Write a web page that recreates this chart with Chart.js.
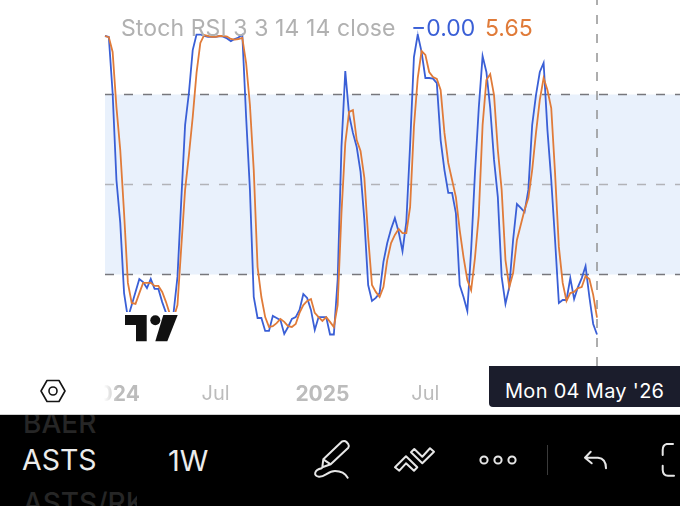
<!DOCTYPE html>
<html>
<head>
<meta charset="utf-8">
<script src="https://cdn.jsdelivr.net/npm/chart.js@4"></script>
<style>
  html, body { margin: 0; padding: 0; background: #fff; overflow: hidden; }
  #wrap { position: relative; width: 680px; height: 506px; font-family: Inter, sans-serif; }
  #wrap div, #wrap svg { position: absolute; }
  canvas { position: absolute; left: 0; top: 0; }
  .t { white-space: nowrap; line-height: 1; }
</style>
</head>
<body>
<div id="wrap">
  <canvas id="stochChart" width="680" height="414"></canvas>

  <!-- legend row, lines fade a bit behind it -->
  <div style="left:115px;top:14px;width:425px;height:20px;background:rgba(255,255,255,.5)"></div>
  <div class="t" style="left:121px;top:17px;font-size:23px;letter-spacing:.1px;color:#b1b1b1">Stoch RSI 3 3 14 14 close</div>
  <div class="t" style="left:411px;top:17px;font-size:23px;color:#3a5fd6">−0.00</div>
  <div class="t" style="left:485px;top:17px;font-size:23px;color:#e07b39">5.65</div>

  <!-- logo -->
  <div style="left:122px;top:312px;width:59px;height:33px;background:#fff"></div>
  <svg style="left:0;top:0" width="680" height="414" viewBox="0 0 680 414">
    <path fill="#111" d="M125 315H146.7V341.3H136V325H125Z"/>
    <circle fill="#111" cx="155.3" cy="320.3" r="5"/>
    <path fill="#111" d="M163.3 315H177.7L167.3 341.3H155.3Z"/>
  </svg>

  <!-- left fade over the first axis label, settings hexagon -->
  <div style="left:0;top:376px;width:118px;height:34px;background:linear-gradient(to right,#fff 88%,rgba(255,255,255,0))"></div>
  <svg style="left:38px;top:378px" width="30" height="26" viewBox="0 0 30 26">
    <path fill="none" stroke="#151515" stroke-width="1.6" stroke-linejoin="round" d="M9 2.5H21L27 13L21 23.5H9L3 13Z"/>
    <circle fill="none" stroke="#151515" stroke-width="1.6" cx="15" cy="13" r="4"/>
  </svg>

  <!-- crosshair date -->
  <div style="left:489px;top:366px;width:191px;height:41px;background:#1b1d2c;border-bottom-left-radius:4px"></div>
  <div class="t" style="left:505px;top:381px;font-size:20px;color:#fff;letter-spacing:.3px">Mon 04 May '26</div>

  <!-- bottom toolbar -->
  <div style="left:0;top:414px;width:680px;height:92px;background:#000;border-top:1px solid #cfcfcf;box-sizing:border-box;overflow:hidden">
    <div class="t" style="left:23px;top:-6px;font-size:28px;color:#262626;font-weight:500">BAER</div>
    <div class="t" style="left:22px;top:31px;font-size:28.5px;color:#ececec">ASTS</div>
    <div class="t" style="left:168px;top:31px;font-size:29px;color:#ececec">1W</div>
    <div class="t" style="left:23px;top:74px;font-size:28px;color:#262626;font-weight:500;width:114px;overflow:hidden">ASTS/RK</div>
  </div>
  <svg style="left:0;top:414px" width="680" height="92" viewBox="0 414 680 92">
    <g fill="none" stroke="#e6e6e6" stroke-width="2" stroke-linecap="round" stroke-linejoin="round">
      <path d="M341.7 441.7Q344.5 440 346.5 442L348.3 444.2Q349.5 446 348.3 447.7L330.7 464.3L322.3 467.3L323.3 459.3ZM323.3 459.3L330.7 464.3"/>
      <path d="M321.7 468.3C314 470 313 476 319 476.7C325 477 328 471 335 471C341 471 345 473 347.7 477.7"/>
      <path d="M395 467.3L406 456.3L417.3 467.3L414 470.7L406 463.3L399.3 470.7Z"/>
      <path d="M411 452.3L414.3 449L422.3 456.7L430 448.3L434 451.7L422.3 463.3Z"/>
      <circle cx="484" cy="460" r="3.6"/><circle cx="498" cy="460" r="3.6"/><circle cx="512" cy="460" r="3.6"/>
      <path d="M590.7 451.7L585 457.7L591.7 463.3M585 457.7H598Q606 458.5 606 468.3"/>
      <path d="M673 444H666.7Q662.7 445 662.7 450V455M662.7 465.7V470Q663 475.7 668 475.7H674"/>
    </g>
    <path stroke="#3a3a3a" stroke-width="1" d="M547.5 445V475"/>
  </svg>
</div>

<script>
// weekly bars, index 0 = first visible week
var blueValues = [99.5,99.2,80.5,51.5,37.2,13.8,5.5,9.8,14.2,18.5,17.5,15.5,18.5,15.2,15.2,10.8,7.2,4.8,7.5,19.2,
  44.8,69.8,80.5,94.8,100,100,99.5,99.2,99.2,99.2,99.5,99.3,98.7,97.8,98.5,99,100,72.5,48.2,12.5,
  5.5,5.5,1.2,1.2,6.2,5.5,4.8,0.2,2.5,5.2,5.8,8.2,13.5,12.2,8.2,1.5,5.8,5.8,5.8,0,
  0,18.2,62.5,87.8,73.2,67.2,62.5,54.2,38.2,16.5,11.2,12.2,13.8,24.2,30.5,35.2,38.8,34.2,27.8,37.5,
  63.2,92.5,100,94.2,85.5,85.5,85.3,83.8,64.8,54.8,47.2,47.2,40.5,16.5,12.5,7.8,28.2,53.8,75.5,92.8,
  87.5,75.5,58.2,45.8,19.2,10.2,15.8,31.5,43.5,42.2,40.8,48.2,69.8,79.8,87.5,90.5,68.2,51.5,31.5,10.5,
  11.5,11.5,18.8,11.8,15.8,18.8,22.8,12.5,3.5,0];

var orangeValues = [99.5,99.1,94.2,75.8,61.5,40.5,17.2,10.5,10.2,13.8,17.2,17.2,17.2,16.2,16.2,14.2,10.8,6.8,5.5,9.8,
  29.2,48.2,59.8,72.5,87.2,97.2,99.8,99.5,99.2,99.2,99.5,99.5,99.3,98.5,98.3,98.5,98.9,90.5,76.5,54.8,
  22.5,12.5,5.8,2.5,2.8,3.8,5.2,4.2,2.8,2.5,3.5,7.2,9.8,11.2,11.8,7.2,5.8,4.5,5.8,4.2,
  2.5,9.8,40.5,63.8,74.2,74.8,64.8,61.2,52.2,32.5,16.5,14.2,12.5,15.8,24.8,30.5,33.2,35.2,33.8,33.8,
  42.5,69.2,85.5,94.5,93.2,87.5,85.8,85.2,81.5,67.2,57.2,51.5,45.8,34.8,25.8,18.2,14.8,25.5,39.8,69.8,
  84.8,86.8,79.8,61.5,48.2,24.8,15.8,20.5,31.5,36.5,41.5,45.5,54.8,67.2,78.2,85.5,81.5,75.5,53.8,29.2,
  17.2,11.2,13.8,14.2,15.5,15.8,19.5,18.5,13.2,5.65];

var tickWeeks = [2, 29, 57, 84];
var tickLabels = ['2024', 'Jul', '2025', 'Jul'];
var bandLevels = [80, 50, 20];

// visible range of the pane
var xMin = -27.53, xMax = 150.76;
var yMin = -26.5, yMax = 111.5;
var cursorWeek = blueValues.length - 1;
var cursorBottom = -10.5;

function toPoints(values) {
    return values.map(function (v, i) { return { x: i, y: v }; });
}

// band starts at the first bar and runs off the right edge
function bandLine(level) {
    return [{ x: 0, y: level }, { x: xMax, y: level }];
}

var ctx = document.getElementById('stochChart').getContext('2d');

new Chart(ctx, {
    type: 'line',
    data: {
        datasets: [
            {
                label: 'D',
                data: toPoints(orangeValues),
                borderColor: '#e07b39',
                borderWidth: 1.8,
                pointRadius: 0,
                tension: 0,
            },
            {
                label: 'K',
                data: toPoints(blueValues),
                borderColor: '#3a5fd6',
                borderWidth: 1.8,
                pointRadius: 0,
                tension: 0,
            },
            {
                data: [{ x: cursorWeek, y: yMax }, { x: cursorWeek, y: cursorBottom }],
                borderColor: '#8c8c8c',
                borderWidth: 1.4,
                borderDash: [9, 10],
                borderDashOffset: 4,
                pointRadius: 0,
            },
            {
                data: bandLine(bandLevels[1]),
                borderColor: '#b2b3b8',
                borderWidth: 1.4,
                borderDash: [9, 10],
                pointRadius: 0,
            },
            {
                data: bandLine(bandLevels[2]),
                borderColor: '#77777c',
                borderWidth: 1.4,
                borderDash: [9, 10],
                pointRadius: 0,
            },
            {
                data: bandLine(bandLevels[0]),
                borderColor: '#77777c',
                borderWidth: 1.4,
                borderDash: [9, 10],
                fill: { value: bandLevels[2] },
                backgroundColor: '#e9f1fc',
                pointRadius: 0,
            },
        ],
    },
    options: {
        responsive: false,
        animation: false,
        layout: { padding: 0 },
        plugins: {
            legend: { display: false },
            tooltip: { enabled: false },
            filler: { drawTime: 'beforeDatasetsDraw' },
        },
        scales: {
            x: {
                type: 'linear',
                min: xMin,
                max: xMax,
                position: { y: -12.5 },
                grid: { display: false },
                border: { display: false },
                afterBuildTicks: function (scale) {
                    scale.ticks = tickWeeks.map(function (w) { return { value: w }; });
                },
                ticks: {
                    autoSkip: false,
                    maxRotation: 0,
                    includeBounds: false,
                    padding: 2,
                    color: '#bcbcbc',
                    font: function (c) {
                        var bold = c.index % 2 === 0;
                        return { family: 'Inter', size: bold ? 21 : 20, weight: bold ? '700' : '400' };
                    },
                    callback: function (value, index) {
                        return tickLabels[index];
                    },
                },
            },
            y: {
                display: false,
                min: yMin,
                max: yMax,
            },
        },
    },
});
</script>
</body>
</html>
